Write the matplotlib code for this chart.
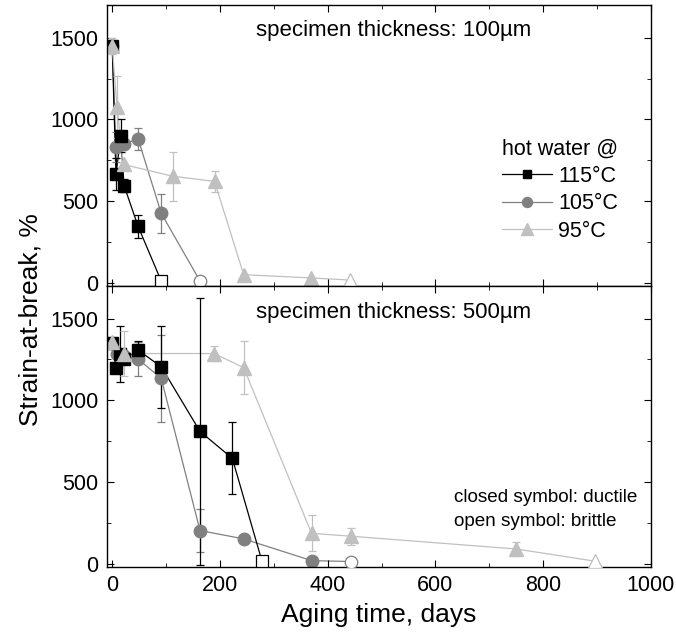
import matplotlib
matplotlib.use("Agg")
from matplotlib import pyplot as plt
from matplotlib.ticker import MultipleLocator

plt.rcParams['font.family'] = ['Liberation Sans', 'DejaVu Sans']

# specimen thickness 100 um
t100_115 = [0, 7, 16, 22, 48, 91]
s100_115 = [1450, 665, 900, 595, 345, 10]
e100_115 = [0, 100, 100, 40, 70, 0]

t100_105 = [0, 7, 22, 48, 91, 163]
s100_105 = [1450, 830, 847, 882, 425, 10]
e100_105 = [0, 90, 0, 68, 120, 0]

t100_95 = [0, 9, 21, 112, 190, 244, 369, 442]
s100_95 = [1450, 1076, 724, 652, 620, 49, 29, 16]
e100_95 = [50, 190, 0, 150, 65, 0, 0, 0]

# specimen thickness 500 um
t500_115 = [0, 7, 14, 21, 48, 91, 163, 223, 278]
s500_115 = [1350, 1200, 1284, 1253, 1307, 1205, 809, 644, 14]
e500_115 = [0, 0, 170, 0, 55, 250, 820, 220, 0]

t500_105 = [0, 9, 21, 48, 91, 163, 244, 370, 444]
s500_105 = [1350, 1284, 1270, 1252, 1134, 202, 151, 18, 12]
e500_105 = [0, 0, 0, 105, 265, 130, 0, 0, 0]

t500_95 = [0, 21, 189, 244, 370, 444, 750, 897]
s500_95 = [1358, 1286, 1286, 1200, 185, 167, 89, 14]
e500_95 = [0, 140, 45, 160, 110, 53, 40, 0]

labels = ["115°C", "105°C", "95°C"]
colors = ["#000000", "#808080", "#c0c0c0"]
markers = ["s", "o", "^"]
msizes = [8, 9, 10]


def draw_series(ax, t, s, e, color, marker, ms, label):
    # last point of every series is brittle (open symbol)
    ax.plot(t, s, '-', color=color, lw=0.9, zorder=1, label=label,
            marker=marker, ms=ms * 0.8, mfc=color, mec=color)
    ax.errorbar(t[:-1], s[:-1], yerr=e[:-1], fmt=marker, ms=ms, color=color,
                mfc=color, mec=color, elinewidth=0.9, capsize=3, capthick=0.9, zorder=2)
    ax.plot(t[-1:], s[-1:], marker, ms=ms, mfc='white', mec=color, mew=0.9, zorder=3)


fig = plt.figure(figsize=(6.76, 6.34), dpi=100)
ax1 = fig.add_axes([0.158, 0.549, 0.805, 0.443])
ax2 = fig.add_axes([0.158, 0.106, 0.805, 0.443])

data100 = [(t100_105, s100_105, e100_105, 1), (t100_115, s100_115, e100_115, 0),
           (t100_95, s100_95, e100_95, 2)]
data500 = [(t500_105, s500_105, e500_105, 1), (t500_115, s500_115, e500_115, 0),
           (t500_95, s500_95, e500_95, 2)]

for ax, data in [(ax1, data100), (ax2, data500)]:
    for t, s, e, i in data:
        draw_series(ax, t, s, e, colors[i], markers[i], msizes[i], labels[i])
    ax.set_xlim(-10, 1000)
    ax.set_ylim(-20, 1700)
    ax.xaxis.set_major_locator(MultipleLocator(200))
    ax.xaxis.set_minor_locator(MultipleLocator(100))
    ax.yaxis.set_major_locator(MultipleLocator(500))
    ax.yaxis.set_minor_locator(MultipleLocator(250))
    ax.tick_params(which='both', direction='in', top=True, right=True, labelsize=15.5)
    ax.tick_params(which='major', length=5, pad=6)
    ax.tick_params(which='minor', length=3)
    for sp in ax.spines.values():
        sp.set_linewidth(1.0)

ax1.tick_params(labelbottom=False)

ax1.text(0.527, 0.91, "specimen thickness: 100µm", transform=ax1.transAxes,
         ha='center', va='center', fontsize=16)
ax2.text(0.527, 0.904, "specimen thickness: 500µm", transform=ax2.transAxes,
         ha='center', va='center', fontsize=16)
ax2.text(0.638, 0.246, "closed symbol: ductile", transform=ax2.transAxes,
         ha='left', va='center', fontsize=13.6)
ax2.text(0.638, 0.16, "open symbol: brittle", transform=ax2.transAxes,
         ha='left', va='center', fontsize=13.6)

h, l = ax1.get_legend_handles_labels()
order = [l.index(x) for x in labels]
leg = ax1.legend([h[k] for k in order], [l[k] for k in order], title="hot water @",
                 loc='upper left', bbox_to_anchor=(0.707, 0.563), frameon=False,
                 fontsize=15.5, title_fontsize=15.5, handlelength=2.3, handletextpad=0.3,
                 labelspacing=0.3, borderpad=0, alignment='left')

ax2.set_xlabel("Aging time, days", fontsize=19, labelpad=5)
fig.text(0.045, 1 - 320 / 634, "Strain-at-break, %", rotation=90, ha='center',
         va='center', fontsize=19)

fig.savefig("out.png", dpi=100)
